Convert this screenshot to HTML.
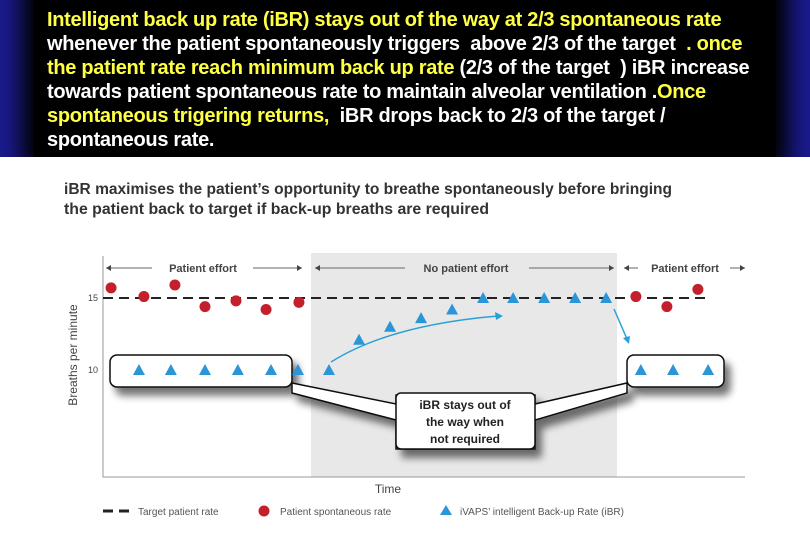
<!DOCTYPE html>
<html><head><meta charset="utf-8">
<style>
body{margin:0;width:810px;height:540px;overflow:hidden;background:#fff;font-family:"Liberation Sans",sans-serif;}
#hdrwrap{position:absolute;left:0;top:0;width:810px;height:157px;overflow:hidden;}
#hdr{position:absolute;left:0;top:0;width:810px;height:157px;background:linear-gradient(90deg,#1a1a8c,#101070 50%,#1a1a8c);}
#blk{position:absolute;left:34px;top:-20px;width:742px;height:177px;background:#000;box-shadow:0 0 20px 12px #000;}
#txt{position:absolute;left:47px;top:8px;width:760px;font-weight:bold;font-size:20px;line-height:24px;color:#fff;letter-spacing:-0.3px;transform:scaleX(1.0);transform-origin:0 0;white-space:nowrap;}
.y{color:#ffff44}
</style></head><body>
<div id="hdrwrap">
<div id="hdr"></div>
<div id="blk"></div>
<div id="txt">
<span class="y">Intelligent back up rate (iBR) stays out of the way at 2/3 spontaneous rate</span><br>
whenever the patient spontaneously triggers&nbsp; above 2/3 of the target&nbsp; <span class="y">. once</span><br>
<span class="y">the patient rate reach minimum back up rate</span> (2/3 of the target&nbsp; ) iBR increase<br>
towards patient spontaneous rate to maintain alveolar ventilation .<span class="y">Once</span><br>
<span class="y">spontaneous trigering returns,</span>&nbsp; iBR drops back to 2/3 of the target /<br>
spontaneous rate.
</div>
</div>
<svg id="chart" width="810" height="540" style="position:absolute;left:0;top:0">
<defs>
<filter id="sh" x="-20%" y="-20%" width="150%" height="180%"><feGaussianBlur in="SourceAlpha" stdDeviation="4"/><feOffset dx="6" dy="8"/><feComponentTransfer><feFuncA type="linear" slope="0.55"/></feComponentTransfer><feMerge><feMergeNode/><feMergeNode in="SourceGraphic"/></feMerge></filter>
</defs>
<text x="64" y="194" font-size="15.5" font-weight="bold" fill="#333" textLength="608" lengthAdjust="spacingAndGlyphs">iBR maximises the patient’s opportunity to breathe spontaneously before bringing</text>
<text x="64" y="214" font-size="15.5" font-weight="bold" fill="#333" textLength="425" lengthAdjust="spacingAndGlyphs">the patient back to target if back-up breaths are required</text>
<rect x="311" y="253" width="306" height="224" fill="#e8e8e8"/>
<g id="plot"></g>
</svg>
<script>
const spontT=[0.26,1.32,2.32,3.29,4.29,5.26,6.32,17.19,18.19,19.19];
const spontV=[15.7,15.1,15.9,14.4,14.8,14.2,14.7,15.1,14.4,15.6];
const ibrT=[1.16,2.19,3.29,4.35,5.42,6.29,7.29,8.26,9.26,10.26,11.26,12.26,13.23,14.23,15.23,16.23,17.35,18.39,19.52];
const ibrV=[10,10,10,10,10,10,10,12.1,13.0,13.6,14.2,15,15,15,15,15,10,10,10];
const yTicks=[10,15];
const target=15;
const X=t=>103+t*31;
const Y=v=>298-(v-15)*14.4;
const NS='http://www.w3.org/2000/svg';
const g=document.getElementById('plot');
function mk(tag,attrs,parent){const e=document.createElementNS(NS,tag);for(const k in attrs)e.setAttribute(k,attrs[k]);(parent||g).appendChild(e);return e;}
function tx(x,y,s,attrs){const e=mk('text',Object.assign({x:x,y:y},attrs));e.textContent=s;return e;}
// fit header lines to reference width
document.querySelectorAll('#txt').forEach(el=>{const w=el.scrollWidth;});
let ax=mk('path',{d:'M103 256 V477 H745',stroke:'#999','stroke-width':1,fill:'none'});


yTicks.forEach(v=>{const t=tx(98,Y(v)+3,String(v),{'font-size':9,'text-anchor':'end',fill:'#444'});

});
let yl=tx(0,0,'Breaths per minute',{'font-size':12,fill:'#444','text-anchor':'middle',transform:'translate(77,355) rotate(-90)'});


let xl=tx(388,493,'Time',{'font-size':12,fill:'#444','text-anchor':'middle'});


function arrowLine(x1,x2,y){mk('line',{x1:x1,x2:x2,y1:y,y2:y,stroke:'#666','stroke-width':1});}
function head(x,y,d){mk('path',{d:`M${x} ${y} l${-d*5} -3 v6z`,fill:'#444'});}
const ay=268;
arrowLine(106,152,ay);arrowLine(253,302,ay);head(106,ay,-1);head(302,ay,1);
arrowLine(315,405,ay);arrowLine(529,614,ay);head(315,ay,-1);head(614,ay,1);
arrowLine(624,638,ay);arrowLine(730,745,ay);head(624,ay,-1);head(745,ay,1);
[[203,'Patient effort','effort-label-left'],[466,'No patient effort','no-effort-label'],[685,'Patient effort','effort-label-right']].forEach(a=>{const t=tx(a[0],ay+4,a[1],{'font-size':11,'font-weight':'bold','text-anchor':'middle',fill:'#444'});

});
let tl=mk('line',{x1:103,x2:X(19.6),y1:Y(target),y2:Y(target),stroke:'#222','stroke-width':2,'stroke-dasharray':'10 6'});


let co=mk('g',{filter:'url(#sh)'});


mk('path',{d:'M292 383 L396 404 L396 395 L535 395 L535 404 L627 383 L627 393 L535 420 L535 449 L396 449 L396 420 L292 393 Z',fill:'#fff',stroke:'#111','stroke-width':1.5},co);
mk('rect',{x:110,y:355,width:182,height:32,rx:7,fill:'#fff',stroke:'#111','stroke-width':1.5},co);
mk('rect',{x:627,y:355,width:97,height:32,rx:7,fill:'#fff',stroke:'#111','stroke-width':1.5},co);
mk('rect',{x:396,y:393,width:139,height:56,rx:5,fill:'#fff',stroke:'#111','stroke-width':1.5},co);
['iBR stays out of','the way when','not required'].forEach((s,i)=>{const t=tx(465,409+i*17,s,{'font-size':12,'font-weight':'bold','text-anchor':'middle',fill:'#222'});

});
mk('path',{d:'M331 362 Q390 325 498 316',stroke:'#2aa0d8','stroke-width':1.5,fill:'none'});
mk('path',{d:'M503 316 l-8 -4 l1 8z',fill:'#2aa0d8'});
mk('line',{x1:614,y1:309,x2:627,y2:339,stroke:'#2aa0d8','stroke-width':1.5});
mk('path',{d:'M629 344 l-6 -6 l7 -2z',fill:'#2aa0d8'});
spontT.forEach((t,i)=>{const c=mk('circle',{cx:X(t),cy:Y(spontV[i]),r:5.5,fill:'#c4202c'});

});
ibrT.forEach((t,i)=>{const x=X(t),y=Y(ibrV[i]);const p=mk('path',{d:`M${x} ${y-6} L${x+6} ${y+5} L${x-6} ${y+5}Z`,fill:'#2a96d8'});

});
mk('path',{d:'M103 511 h10 M119 511 h10',stroke:'#222','stroke-width':3});
let l1=tx(138,515,'Target patient rate',{'font-size':10,fill:'#555'});


mk('circle',{cx:264,cy:511,r:5.5,fill:'#c4202c'});
let l2=tx(280,515,'Patient spontaneous rate',{'font-size':10,fill:'#555'});


mk('path',{d:'M446 505 L452 515 L440 515Z',fill:'#2a96d8'});
let l3=tx(460,515,'iVAPS’ intelligent Back-up Rate (iBR)',{'font-size':10,fill:'#555'});


</script>
</body></html>
